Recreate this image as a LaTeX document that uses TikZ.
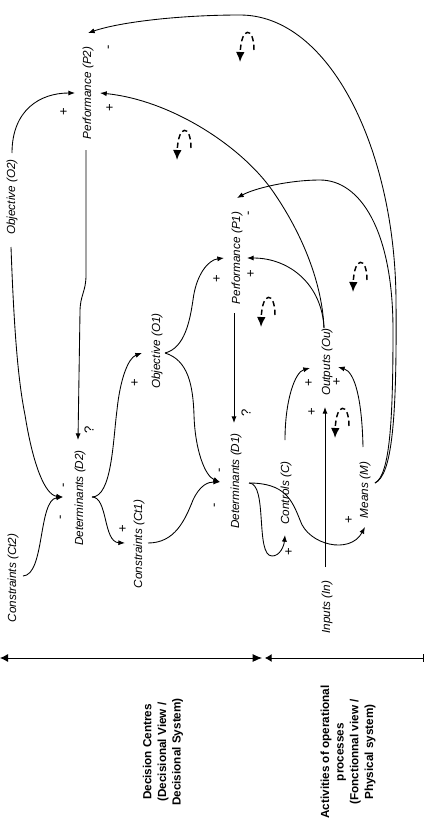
\documentclass[tikz,border=0pt]{standalone}
\usepackage{fontspec}
\setmainfont{Liberation Sans}
\usetikzlibrary{arrows.meta,calc}
\begin{document}
\begin{tikzpicture}[x=0.75pt,y=-0.75pt,
  lbl/.style={font=\fontsize{8.8}{10}\selectfont\itshape, rotate=90, inner sep=0pt},
  sgn/.style={font=\fontsize{9.8}{10}\selectfont, rotate=90, inner sep=0pt},
  boldlbl/.style={font=\fontsize{8.8}{11}\selectfont\bfseries, rotate=90, align=center, inner sep=0pt},
  conn/.style={line width=0.65pt, -{Latex[length=5pt,width=3.8pt]}},
  loopmark/.style={line width=1.1pt, dash pattern=on 4pt off 2.5pt, -{Latex[length=7.5pt,width=6.5pt]}},
  axisline/.style={line width=0.65pt}
]
\useasboundingbox (0,0) rectangle (425,832);

% nodes
\node[lbl] (p2)  at (88,93)   {Performance (P2)};
\node[lbl] (o2)  at (12,197)  {Objective (O2)};
\node[lbl] (ct2) at (13,578)  {Constraints (Ct2)};
\node[lbl] (d2)  at (80,498)  {Determinants (D2)};
\node[lbl] (ct1) at (139,544) {Constraints (Ct1)};
\node[lbl] (o1)  at (157,351) {Objective (O1)};
\node[lbl] (d1)  at (236,481) {Determinants (D1)};
\node[lbl] (p1)  at (237,258) {Performance (P1)};
\node[lbl] (ou)  at (327,362) {Outputs (Ou)};
\node[lbl] (c)   at (286,493) {Controls (C)};
\node[lbl] (m)   at (365,490) {Means (M)};
\node[lbl] (in)  at (327,607) {Inputs (In)};

\node[boldlbl] (dc) at (163,752) {Decision Centres\\(Decisional View /\\Decisional System)};
\node[boldlbl] (ap) at (348,752) {Activities of operational\\processes\\(Fonctionnal view /\\Physical system)};

% connectors
\draw[conn] ($(o2)+(0,-44)$) .. controls (12,110) and (40,93) .. ($(p2)+(-13,0)$);
\draw[conn] ($(o2)+(-1,50)$) .. controls (14,330) and (18,380) .. (25,415) .. controls (33,465) and (45,495) .. ($(d2)+(-17,-1)$);
\draw[conn] ($(ct2)+(10,-2)$) .. controls (45,575) and (38,500) .. ($(d2)+(-17,-1)$);
\draw[conn] ($(p2)+(-2,57)$) -- (86,275) .. controls (86,292) and (80,295) .. (80,312) -- ($(d2)+(-2,-58)$);
\draw[conn] ($(d2)+(12,-1)$) .. controls (108,497) and (103,542) .. ($(ct1)+(-14,-1)$);
\draw[conn] ($(d2)+(12,-1)$) .. controls (112,497) and (113,440) .. (117,410) .. controls (120,380) and (128,358) .. ($(o1)+(-15,2)$);
\draw[conn] ($(ct1)+(9,-1)$) .. controls (175,543) and (185,520) .. (193,500) .. controls (200,485) and (208,482) .. ($(d1)+(-16,1)$);
\draw[conn] ($(o1)+(8,2)$) .. controls (188,360) and (193,385) .. (194,415) .. controls (195,450) and (205,476) .. ($(d1)+(-16,1)$);
\draw[conn] ($(o1)+(8,2)$) .. controls (185,348) and (190,320) .. (193,300) .. controls (196,275) and (208,260) .. ($(p1)+(-13,0)$);
\draw[conn] ($(p1)+(-3,55)$) -- ($(d1)+(-2,-58)$);
\draw[conn] ($(ou)+(-3,-34)$) .. controls (322,285) and (290,258) .. ($(p1)+(10,0)$);
\draw[conn] ($(ou)+(-3,-34)$) .. controls (322,280) and (300,230) .. (272,190) .. controls (240,145) and (170,100) .. ($(p2)+(12,0)$);
\draw[conn] ($(m)+(10,-7)$) .. controls (390,475) and (393,420) .. (393,330) .. controls (393,230) and (360,180) .. (320,180) .. controls (290,180) and (255,188) .. ($(p1)+(0,-60)$);
\draw[conn] ($(m)+(10,-7)$) .. controls (392,475) and (397,420) .. (396,300) .. controls (395,150) and (330,15) .. (240,15) .. controls (180,15) and (120,22) .. ($(p2)+(0,-60)$);
\draw[conn] ($(in)+(-2,-40)$) -- ($(ou)+(-2,45)$);
\draw[conn] ($(c)+(-1,-53)$) .. controls (285,400) and (295,372) .. ($(ou)+(-17,6)$);
\draw[conn] ($(m)+(-2,-43)$) .. controls (362,400) and (355,372) .. ($(ou)+(11,5)$);
\draw[conn] ($(d1)+(13,2)$) .. controls (268,483) and (255,556) .. (272,556) .. controls (280,556) and (284,546) .. ($(c)+(-1,42)$);
\draw[conn] ($(d1)+(13,2)$) .. controls (285,483) and (292,500) .. (300,520) .. controls (308,545) and (350,555) .. ($(m)+(0,37)$);

% signs
\node[sgn] (s1)  at (65,485)  {-};
\node[sgn] (s2)  at (62,517)  {-};
\node[sgn] (s3)  at (89,430)  {?};
\node[sgn] (s4)  at (123,529) {+};
\node[sgn] (s5)  at (135,383) {+};
\node[sgn] (s6)  at (221,470) {-};
\node[sgn] (s7)  at (216,505) {-};
\node[sgn] (s8)  at (217,279) {+};
\node[sgn] (s9)  at (251,274) {+};
\node[sgn] (s10) at (250,213) {-};
\node[sgn] (s11) at (246,413) {?};
\node[sgn] (s12) at (110,108) {+};
\node[sgn] (s13) at (64,112)  {+};
\node[sgn] (s14) at (110,47)  {-};
\node[sgn] (s15) at (309,383) {+};
\node[sgn] (s16) at (337,382) {+};
\node[sgn] (s17) at (312,412) {+};
\node[sgn] (s18) at (289,552) {+};
\node[sgn] (s19) at (349,520) {+};

% dashed loop marks
\foreach \tx/\ty in {177/160, 240/62, 261/327, 353/292, 335/438}
  \draw[loopmark] (\tx+14,\ty-12) .. controls (\tx+14,\ty-36) and (\tx+1,\ty-36) .. (\tx,\ty);

% bottom axis
\coordinate (axL)  at (0,658);
\coordinate (axM1) at (262,658);
\coordinate (axM2) at (265,658);
\coordinate (axR)  at (424,658);
\draw[axisline, {Latex[length=6pt,width=6pt]}-{Latex[length=7pt,width=6pt]}] (axL) -- (axM1);
\draw[axisline, {Latex[length=5pt,width=6pt]}-{Bar[width=6pt]}] (axM2) -- (axR);
\end{tikzpicture}
\end{document}
